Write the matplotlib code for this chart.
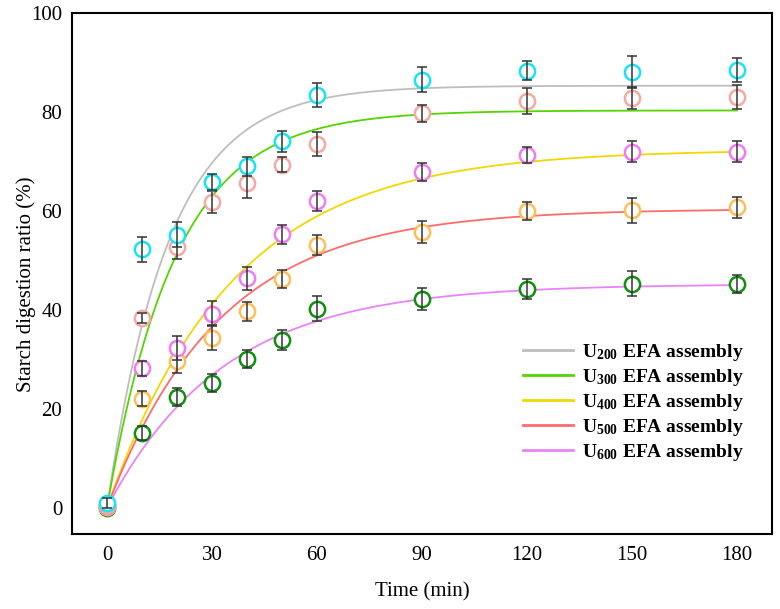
import numpy as np
import matplotlib.pyplot as plt

plt.rcParams['font.family'] = ['Liberation Serif', 'DejaVu Serif']
plt.rcParams['mathtext.fontset'] = 'custom'
plt.rcParams['mathtext.rm'] = 'Liberation Serif'
plt.rcParams['mathtext.bf'] = 'Liberation Serif:bold'

# sampling times (min)
time = [0, 10, 20, 30, 40, 50, 60, 90, 120, 150, 180]

# measured digestion ratio (%) and error bars
u200 = [1.0, 52.2, 55.2, 65.9, 69.0, 74.1, 83.4, 86.5, 88.3, 88.1, 88.5]
u200_err = [1.0, 2.5, 2.5, 1.6, 1.9, 2.1, 2.4, 2.5, 1.9, 3.2, 2.5]
u300 = [0.5, 38.3, 52.8, 61.8, 65.7, 69.3, 73.5, 79.7, 82.2, 82.8, 83.0]
u300_err = [1.0, 1.0, 2.6, 2.2, 3.0, 1.5, 2.4, 1.8, 2.6, 2.3, 2.4]
u400 = [0.3, 28.2, 32.3, 39.2, 46.4, 55.3, 62.0, 67.8, 71.3, 72.0, 72.0]
u400_err = [1.0, 1.5, 2.5, 2.5, 2.3, 1.9, 2.1, 1.85, 1.7, 2.1, 2.2]
u500 = [0.1, 22.0, 29.6, 34.4, 39.7, 46.2, 53.1, 55.7, 60.0, 60.1, 60.7]
u500_err = [1.0, 1.5, 2.4, 2.6, 1.9, 1.85, 2.1, 2.2, 1.8, 2.5, 2.1]
u600 = [0.0, 15.1, 22.4, 25.2, 30.0, 33.9, 40.2, 42.2, 44.2, 45.3, 45.2]
u600_err = [1.0, 1.4, 1.9, 1.85, 1.8, 2.1, 2.5, 2.2, 2.0, 2.5, 1.85]

# first-order fit parameters: C = Cinf*(1-exp(-k t))
fit_cinf = [85.3, 80.3, 72.4, 60.4, 45.2]
fit_k = [0.0566, 0.051, 0.028, 0.031, 0.030]

labels = [r'$\mathbf{U_{200}}$ EFA assembly', r'$\mathbf{U_{300}}$ EFA assembly',
          r'$\mathbf{U_{400}}$ EFA assembly', r'$\mathbf{U_{500}}$ EFA assembly',
          r'$\mathbf{U_{600}}$ EFA assembly']
line_colors = ['#BEBEBE', '#55D400', '#F0D800', '#FF6B6B', '#E884F8']
marker_colors = ['#19E3F2', '#F6A9A3', '#F07CF2', '#FDBE5C', '#108F10']

values = [u200, u300, u400, u500, u600]
errors = [u200_err, u300_err, u400_err, u500_err, u600_err]

fig = plt.figure(figsize=(7.8, 6.09), dpi=100)
ax = fig.add_axes([0.0923, 0.1232, 0.8974, 0.8555])

tt = np.linspace(0, 180, 400)
handles = []
for i in range(5):
    h, = ax.plot(tt, fit_cinf[i] * (1 - np.exp(-fit_k[i] * tt)), color=line_colors[i],
                 lw=1.3, zorder=2)
    handles.append(h)

# draw U600 first so U200 ends up on top
for i in reversed(range(5)):
    ax.plot(time, values[i], 'o', ms=11, mfc='white', mec=marker_colors[i], mew=1.8,
            zorder=3 + (4 - i) * 0.1)
    ax.errorbar(time, values[i], yerr=errors[i], fmt='none', ecolor='#333333',
                elinewidth=1.1, capsize=3.8, capthick=1.1, zorder=3.05 + (4 - i) * 0.1)

ax.set_xlim(-10, 190)
ax.set_ylim(-5.3, 100)
ax.set_xticks([0, 30, 60, 90, 120, 150, 180])
ax.set_yticks([0, 20, 40, 60, 80, 100])
ax.tick_params(length=0, labelsize=15)
ax.tick_params(axis='x', pad=9)
ax.tick_params(axis='y', pad=7)
for s in ax.spines.values():
    s.set_linewidth(1.5)

ax.set_xlabel('Time (min)', fontsize=15, labelpad=12)
ax.set_ylabel('Starch digestion ratio (%)', fontsize=15, labelpad=4)
ax.yaxis.set_label_coords(-0.052, 0.48)

leg = ax.legend(handles, labels, loc='upper left', bbox_to_anchor=(0.644, 0.368),
                frameon=False, borderpad=0, borderaxespad=0, handlelength=2.6,
                handletextpad=0.45, labelspacing=0.2,
                prop={'family': 'Liberation Serif', 'weight': 'bold', 'size': 14})
for l in leg.get_lines():
    l.set_linewidth(2.0)

fig.savefig('out.png', dpi=100)
